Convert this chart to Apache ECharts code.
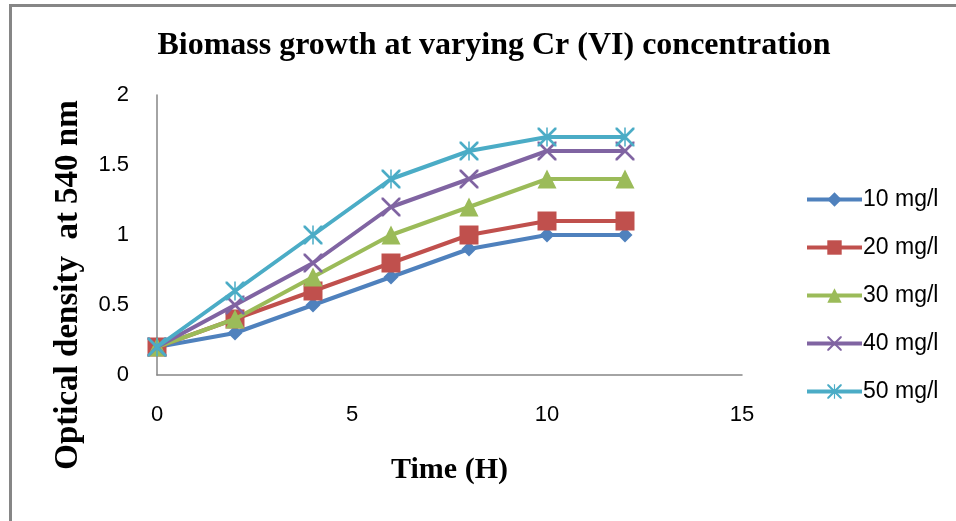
<!DOCTYPE html>
<html>
<head>
<meta charset="utf-8">
<script src="https://cdn.jsdelivr.net/npm/echarts@6/dist/echarts.min.js"></script>
<style>
html,body{margin:0;padding:0;background:#fff;}
#c{width:956px;height:521px;}
</style>
</head>
<body>
<div id="c"></div>
<script>
const timeH = [0, 2, 4, 6, 8, 10, 12];
const seriesNames = ['10 mg/l', '20 mg/l', '30 mg/l', '40 mg/l', '50 mg/l'];
const od10 = [0.2, 0.3, 0.5, 0.7, 0.9, 1.0, 1.0];
const od20 = [0.2, 0.4, 0.6, 0.8, 1.0, 1.1, 1.1];
const od30 = [0.2, 0.4, 0.7, 1.0, 1.2, 1.4, 1.4];
const od40 = [0.2, 0.5, 0.8, 1.2, 1.4, 1.6, 1.6];
const od50 = [0.2, 0.6, 1.0, 1.4, 1.6, 1.7, 1.7];
const allValues = [od10, od20, od30, od40, od50];

const colors = ['#4F81BD', '#C0504D', '#9BBB59', '#8064A2', '#4BACC6'];
const xMark = 'path://M0,0L1,0L10,9L10,10L9,10L0,1ZM9,0L10,0L10,1L1,10L0,10L0,9Z';
const starMark = 'path://M0,0L1,0L10,9L10,10L9,10L0,1ZM9,0L10,0L10,1L1,10L0,10L0,9ZM4.6,0L5.4,0L5.4,10L4.6,10Z';
const symbols = ['diamond', 'rect', 'triangle', xMark, starMark];
const sizes = [15, 19, 19, 19, 19];

const chart = echarts.init(document.getElementById('c'));
const tickFont = {fontFamily: 'Liberation Sans', fontSize: 22, color: '#000'};
chart.setOption({
  animation: false,
  backgroundColor: '#fff',
  title: {
    text: 'Biomass growth at varying Cr (VI) concentration',
    left: 489, top: 25, textAlign: 'center',
    textStyle: {fontFamily: 'Liberation Serif', fontWeight: 'bold', fontSize: 32, color: '#000'}
  },
  graphic: [{
    type: 'rect', left: 8, top: 3, silent: true,
    shape: {width: 1000, height: 600},
    style: {fill: 'none', stroke: '#868686', lineWidth: 3}
  }],
  legend: {
    orient: 'vertical', left: 800, top: 183,
    itemWidth: 55, itemHeight: 18, itemGap: 25,
    lineStyle: {width: 4},
    textStyle: {fontFamily: 'Liberation Sans', fontSize: 23, color: '#000', padding: [0,0,0,-4]},
    data: seriesNames
  },
  grid: {left: 157, top: 95, right: 214, bottom: 146, containLabel: false},
  xAxis: {
    type: 'value', min: 0, max: 15, interval: 5,
    name: 'Time (H)', nameLocation: 'middle', nameGap: 80,
    nameTextStyle: {fontFamily: 'Liberation Serif', fontWeight: 'bold', fontSize: 30, color: '#000'},
    axisLine: {lineStyle: {color: '#868686', width: 1.5}},
    axisTick: {show: false},
    splitLine: {show: false},
    axisLabel: Object.assign({margin: 29}, tickFont)
  },
  yAxis: {
    type: 'value', min: 0, max: 2, interval: 0.5,
    name: 'Optical density  at 540 nm', nameLocation: 'middle', nameGap: 72, nameRotate: 90,
    nameTextStyle: {fontFamily: 'Liberation Serif', fontWeight: 'bold', fontSize: 33, color: '#000', padding: [0, 100, 0, 0]},
    axisLine: {show: true, lineStyle: {color: '#868686', width: 1.5}},
    axisTick: {show: false},
    splitLine: {show: false},
    axisLabel: Object.assign({margin: 28}, tickFont)
  },
  series: seriesNames.map((n, i) => ({
    name: n, type: 'line',
    data: timeH.map((t, j) => [t, allValues[i][j]]),
    symbol: symbols[i], symbolSize: sizes[i],
    showAllSymbol: true,
    lineStyle: {color: colors[i], width: 4},
    itemStyle: {color: colors[i], borderWidth: 0},
    z: 2 + i
  }))
});
</script>
</body>
</html>
